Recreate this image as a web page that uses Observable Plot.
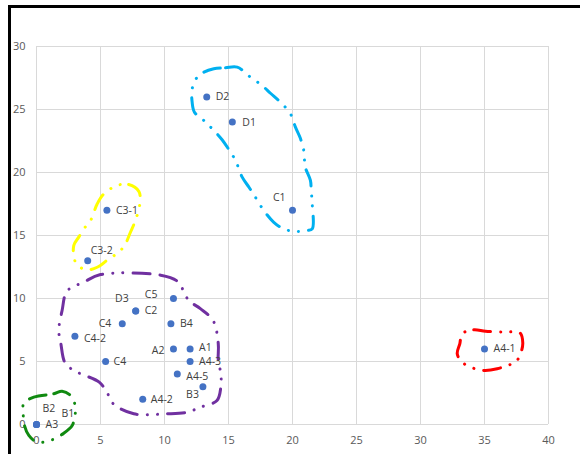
<!DOCTYPE html>
<html><head><meta charset="utf-8">
<script src="https://cdn.jsdelivr.net/npm/d3@7"></script>
<script src="https://cdn.jsdelivr.net/npm/@observablehq/plot@0.6"></script>
<style>
body{margin:0;background:#fff;}
#wrap{position:relative;width:580px;height:454px;overflow:hidden;background:#fff;}
#frame{position:absolute;left:8px;top:5px;width:700px;height:700px;border-top:3px solid #000;border-left:3px solid #000;pointer-events:none;}
</style></head><body><div id="wrap"><div id="frame"></div></div>
<script>
// ---- data ----
const names = ["A3","B2","B1","C4-2","C4","C4","C2","D3","C5","B4","A2","A1","A4-3","A4-5","B3","A4-2","C3-2","C3-1","D2","D1","C1","A4-1"];
const xs    = [0, 0, 0, 3, 5.4, 6.7, 7.75, 7.75, 10.7, 10.5, 10.7, 12, 12, 11, 13, 8.3, 4, 5.5, 13.3, 15.3, 20, 35];
const ys    = [0, 0, 0, 7, 5, 8, 9, 9, 10, 8, 6, 6, 5, 4, 3, 2, 13, 17, 26, 24, 17, 6];
const xTicks = [0, 5, 10, 15, 20, 25, 30, 35, 40];
const yTicks = [0, 5, 10, 15, 20, 25, 30];

// hand-drawn cluster outlines (data units)
const outlinePurple = [[5.0,11.9],[9.7,11.85],[11.0,11.37],[11.9,9.84],[12.8,9.2],[13.8,8.25],[14.2,6.43],[14.2,5.08],[14.4,4.05],[14.4,2.96],[14.1,1.9],[12.8,1.37],[11.8,0.98],[10.2,0.85],[7.6,0.85],[6.0,1.64],[5.5,2.56],[4.9,3.36],[3.2,4.15],[2.27,4.82],[1.9,6.43],[1.74,7.46],[2.0,9.05],[2.4,10.6],[3.7,11.3]];
const outlineGreen = [[-0.21,2.17],[1.35,2.44],[2.0,2.64],[2.66,2.3],[3.05,1.37],[2.97,0.58],[2.79,-0.08],[2.13,-0.69],[1.23,-1.21],[0.05,-1.4],[-0.6,-0.87],[-0.94,-0.08],[-1.04,0.85],[-0.99,1.69]];
const outlineYellow = [[6.3,18.97],[7.2,19.05],[8.0,18.5],[8.07,17.5],[7.73,16.2],[7.34,15.26],[6.95,14.34],[6.43,13.67],[5.65,13.15],[4.74,12.48],[3.83,12.28],[3.05,12.88],[2.91,14.2],[3.3,14.87],[3.7,15.53],[4.22,16.19],[4.74,17.5],[5.26,18.3]];
const outlineCyan = [[13.85,28.23],[14.77,28.31],[15.68,28.36],[16.72,27.56],[17.63,26.9],[18.28,26.29],[19.06,25.58],[19.84,24.66],[20.23,23.6],[20.6,22.75],[20.88,21.75],[21.0,20.42],[21.4,19.37],[21.46,18.57],[21.54,17.52],[21.54,15.53],[21.15,15.4],[20.23,15.32],[19.3,15.53],[18.54,16.05],[17.76,16.98],[17.1,18.04],[16.6,18.83],[16.07,19.63],[15.55,20.95],[15.02,21.83],[14.5,22.6],[13.73,23.47],[13.07,24.13],[12.34,24.79],[12.16,25.58],[12.16,26.64],[12.55,27.56],[13.07,27.96]];
const outlineRed = [[33.26,7.2],[34.16,7.52],[35.08,7.4],[36.5,7.33],[37.76,7.28],[37.99,6.48],[37.81,5.61],[37.42,4.94],[36.77,4.68],[35.99,4.42],[35.02,4.29],[34.12,4.47],[33.26,4.94],[32.87,5.61],[33.07,6.4]];

// ---- layout of labels: [textAnchor, dx, dy] by point index ----
const labelLayout = [
  ["start",9,0],["start",6,-16],["start",25,-11],["start",9,2],["start",8,0],["end",-11,0],
  ["start",9,0],["end",-7,-12],["end",-16,-4],["start",9,0],["end",-9,2],["start",9,-1.5],
  ["start",9,0.5],["start",9,2.5],["end",-4,8],["start",8,0],["start",3,-10],["start",9,0],
  ["start",9,0],["start",10,1],["end",-7,-13],["start",9,0]
];

const pts = names.map((n,i)=>({name:n, x:xs[i], y:ys[i]}));
const outlines = [
  [outlinePurple, "#7030A0"],
  [outlineGreen, "#108a10"],
  [outlineYellow, "#FFFF00"],
  [outlineCyan, "#00B0F0"],
  [outlineRed, "#FF0000"]
];

const marks = [
  Plot.ruleX(xTicks, {stroke:"#d9d9d9", strokeWidth:1}),
  Plot.ruleY(yTicks, {stroke:"#d9d9d9", strokeWidth:1}),
  ...outlines.map(([o,c]) => Plot.line(o, {x:d=>d[0], y:d=>d[1], stroke:c, strokeWidth:3,
      strokeLinecap:"round", strokeLinejoin:"round", strokeDasharray:"17 10 0.1 10 0.1 10",
      curve:"catmull-rom-closed"})),
  Plot.dot(pts, {x:"x", y:"y", r:3.5, fill:"#4472C4", stroke:"none"}),
  ...pts.map((p,i) => Plot.text([p], {x:"x", y:"y", text:"name", fill:"#404040",
      textAnchor:labelLayout[i][0], dx:labelLayout[i][1], dy:labelLayout[i][2], fontSize:10.5}))
];

const chart = Plot.plot({
  width:580, height:454,
  marginLeft:36, marginRight:32, marginTop:46, marginBottom:30,
  style:{fontFamily:"Open Sans", fontSize:"11px", color:"#595959", background:"transparent", overflow:"visible"},
  x:{domain:[0,40], ticks:xTicks, tickSize:0, tickPadding:12, label:null},
  y:{domain:[0,30], ticks:yTicks, tickSize:0, tickPadding:11, label:null},
  marks
});
document.getElementById("wrap").prepend(chart);
</script>
</body></html>
